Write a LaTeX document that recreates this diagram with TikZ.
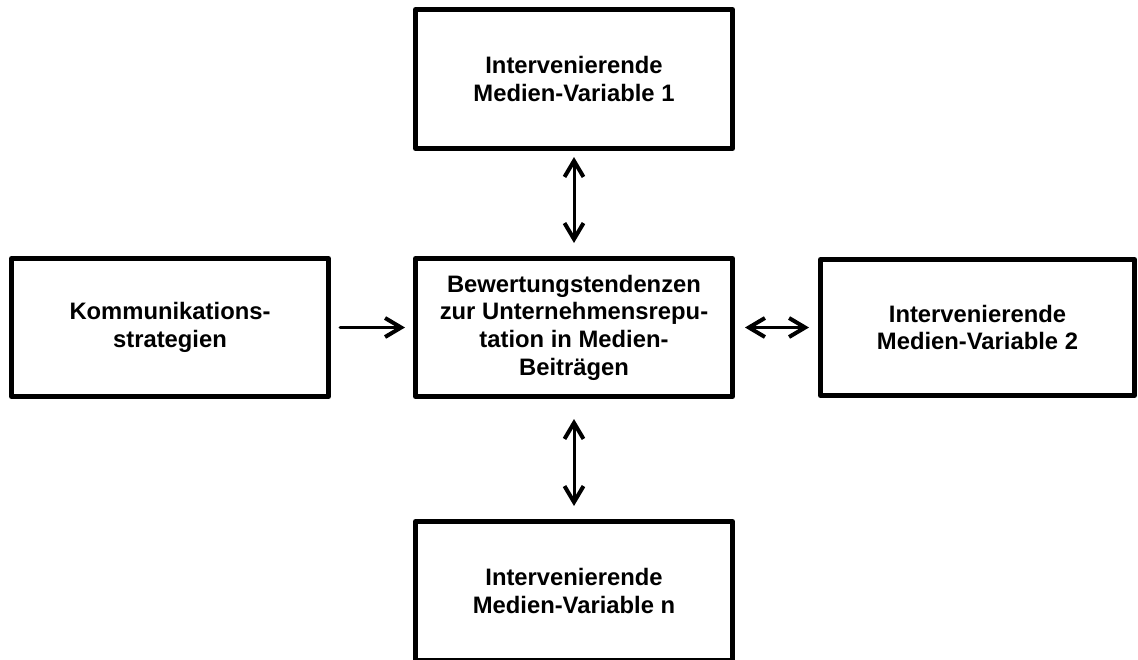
\documentclass[tikz,border=0pt]{standalone}
\usepackage{fontspec}
\setmainfont{Liberation Sans}
\usetikzlibrary{arrows.meta}
\tikzset{
  tip/.tip={Straight Barb[length=16pt,width=19pt,line width=4pt]},
  box/.style={draw=black, line width=5pt, line join=round, fill=white,
    minimum width=317pt, minimum height=139pt, inner sep=0pt,
    align=center, font=\fontsize{23.8pt}{27.6pt}\selectfont\bfseries},
  link/.style={line width=3pt, line cap=round, tip-tip},
  onelink/.style={line width=3pt, line cap=round, -tip}
}
\begin{document}
\begin{tikzpicture}[x=1pt,y=-1pt]
\useasboundingbox (0,0) rectangle (1138,659);
\clip (0,0) rectangle (1138,659);
\node[box] (top) at (574,79) {Intervenierende\\Medien-Variable 1};
\node[box, minimum height=138pt] (mid) at (574,327.5) {Bewertungstendenzen\\zur Unternehmensrepu-\\tation in Medien-\\Beiträgen};
\node[box, minimum height=138pt] (left) at (170,327.5) {Kommunikations-\\strategien};
\node[box, minimum width=314pt, minimum height=136pt] (right) at (977.5,327.5) {Intervenierende\\Medien-Variable 2};
\node[box] (bot) at (574,591) {Intervenierende\\Medien-Variable n};
\draw[link, shorten <=6pt, shorten >=13pt] (top.south) -- (mid.north);
\draw[link, shorten <=20pt, shorten >=13pt] (mid.south) -- (bot.north);
\draw[onelink, shorten <=9pt, shorten >=8pt] (left.east) -- (mid.west);
\draw[link, shorten <=10pt, shorten >=9pt] (mid.east) -- (right.west);
\end{tikzpicture}
\end{document}
